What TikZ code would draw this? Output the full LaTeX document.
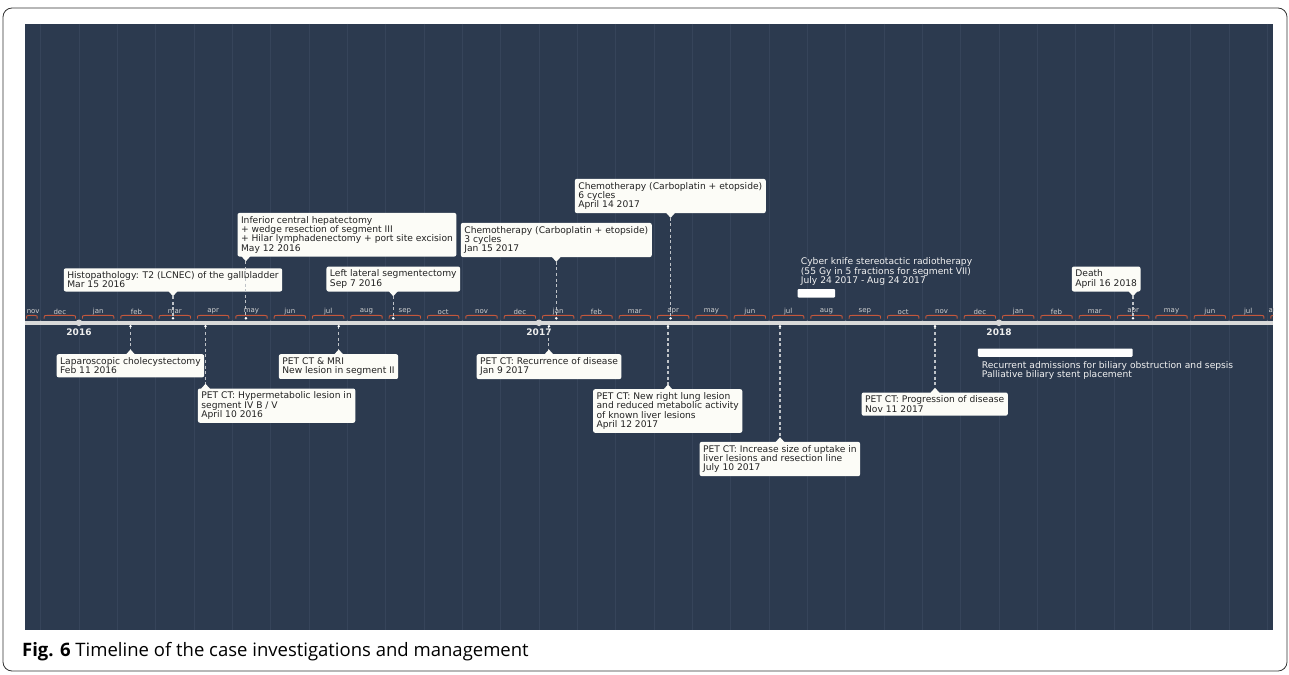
\documentclass[tikz,border=0pt]{standalone}
\usepackage{fontspec}
\setmainfont{DejaVu Sans}
\newfontfamily\capfont{Open Sans}
\definecolor{panelbg}{HTML}{2C3A4F}
\definecolor{gridc}{HTML}{36445A}
\definecolor{axisc}{HTML}{D9D9D9}
\definecolor{bracec}{HTML}{C4573C}
\definecolor{monthc}{HTML}{D0D0D0}
\definecolor{yearc}{HTML}{EEEEEE}
\definecolor{boxc}{HTML}{FCFCF7}
\definecolor{dashc}{HTML}{BFC3C8}
\definecolor{textc}{HTML}{222222}
\definecolor{rangec}{HTML}{F2F2F2}
\definecolor{framec}{HTML}{333333}
\newcommand\evfont{\fontsize{9.15}{9.3}\selectfont}
\tikzset{
  evbox/.style={fill=boxc, rounded corners=2pt, inner xsep=3.5pt, inner ysep=3.4pt, align=left, font=\evfont, text=textc},
  conn/.style={draw=dashc, line width=1.1pt, dash pattern=on 3pt off 2.6pt},
  evdot/.style={fill=white},
  monthlbl/.style={font=\fontsize{7}{8}\selectfont, text=monthc, inner sep=0pt},
  yearlbl/.style={font=\bfseries\fontsize{9}{10}\selectfont, text=yearc, inner sep=0pt},
  bracepath/.style={draw=bracec, line width=0.9pt},
  rangebar/.style={fill=white, rounded corners=1pt, inner sep=0pt, anchor=north west},
  rangetxt/.style={font=\evfont, text=rangec, align=left, inner sep=0pt, anchor=north west},
}
% #1 name, #2 pointer x, #3 box bottom y, #4 anchor, #5 anchor x, #6 text
\newcommand\evup[6]{%
  \node[evbox,anchor=#4] (#1) at (#5,#3) {#6};
  \coordinate (#1tip) at (#2,#3+4.5);
  \coordinate (#1dot) at (#2,318.3);
  \fill[boxc] (#2-4.5,#3-0.5) -- (#1tip) -- (#2+4.5,#3-0.5) -- cycle;
  \draw[conn] (#1tip) -- (#1dot);
  \fill[evdot] (#1dot) circle (1.4);
}
\newcommand\evdown[6]{%
  \node[evbox,anchor=#4] (#1) at (#5,#3) {#6};
  \coordinate (#1tip) at (#2,#3-4.5);
  \coordinate (#1dot) at (#2,326.3);
  \fill[boxc] (#2-4.5,#3+0.5) -- (#1tip) -- (#2+4.5,#3+0.5) -- cycle;
  \draw[conn] (#1dot) -- (#1tip);
  \fill[evdot] (#1dot) circle (1.4);
}
\begin{document}
\begin{tikzpicture}[x=1pt,y=-1pt]
\useasboundingbox (0,0) rectangle (1289,674);
\draw[framec, line width=0.8pt, rounded corners=9pt] (3,8) rectangle (1287,671);
\fill[panelbg] (25,24) rectangle (1273,630);
\begin{scope}
\clip (25,24) rectangle (1273,630);
\foreach \k in {-1,...,31} \draw[gridc, line width=0.6pt] ({79+38.3333*\k},24) -- ({79+38.3333*\k},630);
% axis
\draw[axisc, line width=3.8pt] (25,322.8) -- (1273,322.8);
\foreach \k in {-1,...,31} \fill[axisc] ({79+38.3333*\k},322.8) circle (2.1);
\foreach \k in {0,12,24} \fill[axisc] ({79+38.3333*\k},322.8) circle (3.3);
% month braces and labels
\foreach \m [count=\j] in {dec,jan,feb,mar,apr,may,jun,jul,aug,sep,oct,nov,dec,jan,feb,mar,apr,may,jun,jul,aug,sep,oct,nov,dec,jan,feb,mar,apr,may,jun,jul} {
  \pgfmathsetmacro\xa{79+38.3333*(\j-2)+3.5}
  \pgfmathsetmacro\xb{79+38.3333*(\j-1)-3.5}
  \pgfmathsetmacro\xc{79+38.3333*(\j-2)+19.1667}
  \draw[bracepath] (\xa,318.6) .. controls (\xa,315.4) .. (\xa+3,315.4) -- (\xb-3,315.4) .. controls (\xb,315.4) .. (\xb,318.6);
  \node[monthlbl] (mon\j) at (\xc,311.6) {\m};
}
\draw[bracepath] (26.6,318.6) .. controls (26.6,315.4) .. (29.6,315.4) -- (34.2,315.4) .. controls (37.2,315.4) .. (37.2,318.6);
\node[monthlbl] (mon0) at (33.2,311.6) {nov};
\draw[bracepath] (1270.8,318.6) .. controls (1270.8,315.4) .. (1273.8,315.4) -- (1290,315.4);
\node[monthlbl, anchor=west] (mon33) at (1268.3,311.6) {aug};
% years
\node[yearlbl] (y2016) at (79,332.7) {2016};
\node[yearlbl] (y2017) at (539,332.7) {2017};
\node[yearlbl] (y2018) at (999,332.7) {2018};
% events above
\evup{a1}{173}{291.7}{south}{173}{Histopathology: T2 (LCNEC) of the gallbladder\\Mar 15 2016}
\evup{a2}{245.9}{256.7}{south west}{237.3}{Inferior central hepatectomy\\+ wedge resection of segment III\\+ Hilar lymphadenectomy + port site excision\\May 12 2016}
\evup{a3}{393.3}{291.7}{south}{393.3}{Left lateral segmentectomy\\Sep 7 2016}
\evup{a4}{556.3}{257.3}{south}{556.3}{Chemotherapy (Carboplatin + etopside)\\3 cycles\\Jan 15 2017}
\evup{a5}{670.6}{213.3}{south}{670.3}{Chemotherapy (Carboplatin + etopside)\\6 cycles\\April 14 2017}
\evup{a6}{1133}{291.7}{south east}{1140.7}{Death\\April 16 2018}
% events below
\evdown{b1}{130.5}{354}{north}{130.4}{Laparoscopic cholecystectomy\\Feb 11 2016}
\evdown{b2}{205.5}{388.3}{north west}{197.7}{PET CT: Hypermetabolic lesion in\\segment IV B / V\\April 10 2016}
\evdown{b3}{338.7}{354}{north}{338.5}{PET CT \& MRI\\New lesion in segment II}
\evdown{b4}{548.9}{354}{north}{549}{PET CT: Recurrence of disease\\Jan 9 2017}
\evdown{b5}{668}{389}{north}{667.7}{PET CT: New right lung lesion\\and reduced metabolic activity\\of known liver lesions\\April 12 2017}
\evdown{b6}{780}{441.7}{north}{779.9}{PET CT: Increase size of uptake in\\liver lesions and resection line\\July 10 2017}
\evdown{b7}{935}{392.3}{north}{934.7}{PET CT: Progression of disease\\Nov 11 2017}
% ranges
\node[rangebar, minimum width=37.7pt, minimum height=8.3pt] (r1) at (797.3,289) {};
\node[rangetxt] (r1t) at (800.7,257.8) {Cyber knife stereotactic radiotherapy\\(55 Gy in 5 fractions for segment VII)\\July 24 2017 - Aug 24 2017};
\node[rangebar, minimum width=154.6pt, minimum height=8.4pt] (r2) at (977.7,348.3) {};
\node[rangetxt] (r2t) at (981.7,361.3) {Recurrent admissions for biliary obstruction and sepsis\\Palliative biliary stent placement};
\end{scope}
% caption
\node[anchor=west, inner sep=0pt, font=\capfont\fontsize{18.5}{22}\selectfont] (cap) at (22,652) {\textbf{Fig. 6} Timeline of the case investigations and management};
\end{tikzpicture}
\end{document}
